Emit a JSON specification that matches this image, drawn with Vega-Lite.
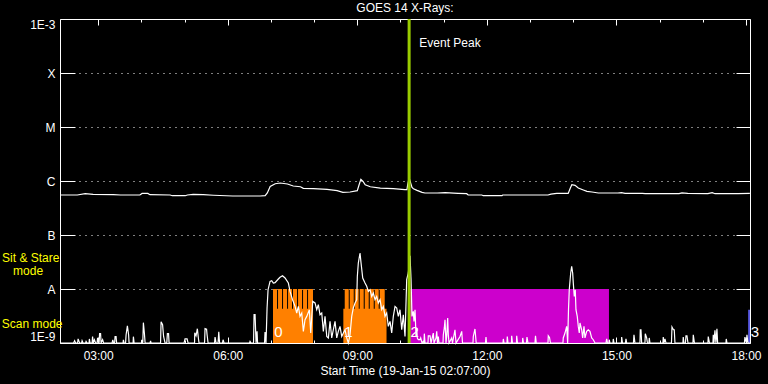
{
  "$schema": "https://vega.github.io/schema/vega-lite/v6.json",
  "width": 690,
  "height": 324,
  "autosize": "none",
  "padding": {"left": 60, "top": 19, "right": 18, "bottom": 41},
  "background": "black",
  "title": {"text": "GOES 14 X-Rays:", "color": "white", "font": "Liberation Sans", "fontSize": 12, "fontWeight": "normal", "anchor": "middle", "baseline": "alphabetic", "offset": 5, "dy": 11},
  "config": {
    "view": {"stroke": null},
    "axis": {"domainColor": "white", "domainWidth": 1, "tickColor": "white", "tickWidth": 1, "labelColor": "white", "titleColor": "white", "labelFont": "Liberation Sans", "titleFont": "Liberation Sans", "labelFontSize": 12, "titleFontSize": 12, "titleFontWeight": "normal"}
  },
  "datasets": {
    "segs": [
      {"t1": 7.049, "t2": 7.975, "lo": 1e-9, "hi": 4.32e-9, "kind": "scan"},
      {"t1": 7.049, "t2": 7.142, "lo": 1e-9, "hi": 1e-8, "kind": "scan"},
      {"t1": 7.165, "t2": 7.258, "lo": 1e-9, "hi": 1e-8, "kind": "scan"},
      {"t1": 7.281, "t2": 7.374, "lo": 1e-9, "hi": 1e-8, "kind": "scan"},
      {"t1": 7.397, "t2": 7.489, "lo": 1e-9, "hi": 1e-8, "kind": "scan"},
      {"t1": 7.512, "t2": 7.605, "lo": 1e-9, "hi": 1e-8, "kind": "scan"},
      {"t1": 7.628, "t2": 7.721, "lo": 1e-9, "hi": 1e-8, "kind": "scan"},
      {"t1": 7.744, "t2": 7.837, "lo": 1e-9, "hi": 1e-8, "kind": "scan"},
      {"t1": 7.860, "t2": 7.975, "lo": 1e-9, "hi": 1e-8, "kind": "scan"},
      {"t1": 8.677, "t2": 9.677, "lo": 1e-9, "hi": 4.32e-9, "kind": "scan"},
      {"t1": 8.709, "t2": 8.802, "lo": 1e-9, "hi": 1e-8, "kind": "scan"},
      {"t1": 8.825, "t2": 8.918, "lo": 1e-9, "hi": 1e-8, "kind": "scan"},
      {"t1": 8.941, "t2": 9.033, "lo": 1e-9, "hi": 1e-8, "kind": "scan"},
      {"t1": 9.056, "t2": 9.149, "lo": 1e-9, "hi": 1e-8, "kind": "scan"},
      {"t1": 9.172, "t2": 9.265, "lo": 1e-9, "hi": 1e-8, "kind": "scan"},
      {"t1": 9.288, "t2": 9.381, "lo": 1e-9, "hi": 1e-8, "kind": "scan"},
      {"t1": 9.404, "t2": 9.496, "lo": 1e-9, "hi": 1e-8, "kind": "scan"},
      {"t1": 9.519, "t2": 9.635, "lo": 1e-9, "hi": 1e-8, "kind": "scan"},
      {"t1": 10.221, "t2": 14.827, "lo": 1e-9, "hi": 1e-8, "kind": "sit"},
      {"t1": 18.052, "t2": 18.09, "lo": 1e-9, "hi": 4.14e-9, "kind": "other"}
    ],
    "upper": [
      {"t": 2.117, "v": 5.50e-7}, {"t": 2.517, "v": 5.50e-7}, {"t": 2.70, "v": 5.82e-7}, {"t": 2.883, "v": 5.65e-7},
      {"t": 3.35, "v": 5.57e-7}, {"t": 3.517, "v": 5.50e-7}, {"t": 3.967, "v": 5.50e-7}, {"t": 4.017, "v": 5.89e-7},
      {"t": 4.15, "v": 5.89e-7}, {"t": 4.20, "v": 5.57e-7}, {"t": 4.667, "v": 5.50e-7}, {"t": 4.717, "v": 5.34e-7},
      {"t": 5.017, "v": 5.34e-7}, {"t": 5.067, "v": 5.50e-7}, {"t": 5.20, "v": 5.65e-7}, {"t": 5.433, "v": 5.57e-7},
      {"t": 5.667, "v": 5.45e-7}, {"t": 6.117, "v": 5.28e-7}, {"t": 6.75, "v": 5.28e-7}, {"t": 6.867, "v": 5.34e-7},
      {"t": 6.917, "v": 6.0e-7}, {"t": 6.983, "v": 7.94e-7}, {"t": 7.10, "v": 8.91e-7}, {"t": 7.217, "v": 9.18e-7},
      {"t": 7.383, "v": 8.79e-7}, {"t": 7.517, "v": 8.07e-7}, {"t": 7.683, "v": 7.83e-7}, {"t": 7.75, "v": 7.30e-7},
      {"t": 7.983, "v": 7.20e-7}, {"t": 8.30, "v": 6.98e-7}, {"t": 8.533, "v": 6.61e-7}, {"t": 8.667, "v": 6.15e-7},
      {"t": 8.833, "v": 6.25e-7}, {"t": 9.0, "v": 6.61e-7}, {"t": 9.042, "v": 8.53e-7}, {"t": 9.083, "v": 1.07e-6},
      {"t": 9.133, "v": 9.84e-7}, {"t": 9.183, "v": 8.53e-7}, {"t": 9.30, "v": 7.83e-7}, {"t": 9.533, "v": 7.41e-7},
      {"t": 9.833, "v": 7.20e-7}, {"t": 10.10, "v": 6.90e-7}, {"t": 10.15, "v": 6.90e-7}, {"t": 10.167, "v": 8.53e-7},
      {"t": 10.20, "v": 1.14e-6}, {"t": 10.267, "v": 7.60e-7}, {"t": 10.30, "v": 7.20e-7}, {"t": 10.383, "v": 6.70e-7},
      {"t": 10.50, "v": 6.15e-7}, {"t": 10.567, "v": 6.0e-7}, {"t": 10.85, "v": 6.0e-7}, {"t": 11.033, "v": 6.07e-7},
      {"t": 11.333, "v": 5.89e-7}, {"t": 11.533, "v": 5.82e-7}, {"t": 11.567, "v": 5.50e-7}, {"t": 11.883, "v": 5.50e-7},
      {"t": 11.917, "v": 5.34e-7}, {"t": 12.35, "v": 5.34e-7}, {"t": 12.367, "v": 5.50e-7}, {"t": 13.417, "v": 5.50e-7},
      {"t": 13.483, "v": 5.70e-7}, {"t": 13.617, "v": 5.89e-7}, {"t": 13.883, "v": 5.89e-7}, {"t": 13.933, "v": 7.41e-7},
      {"t": 13.967, "v": 8.53e-7}, {"t": 14.042, "v": 8.30e-7}, {"t": 14.117, "v": 7.41e-7}, {"t": 14.233, "v": 6.81e-7},
      {"t": 14.317, "v": 6.41e-7}, {"t": 14.433, "v": 6.25e-7}, {"t": 14.583, "v": 6.0e-7}, {"t": 15.033, "v": 6.0e-7},
      {"t": 15.117, "v": 6.07e-7}, {"t": 15.20, "v": 5.89e-7}, {"t": 15.60, "v": 5.89e-7}, {"t": 15.667, "v": 5.82e-7},
      {"t": 16.45, "v": 5.82e-7}, {"t": 16.517, "v": 6.0e-7}, {"t": 16.65, "v": 5.89e-7}, {"t": 17.117, "v": 5.82e-7},
      {"t": 17.217, "v": 6.07e-7}, {"t": 17.283, "v": 5.82e-7}, {"t": 17.817, "v": 5.82e-7}, {"t": 18.09, "v": 5.89e-7}
    ],
    "lower": [
      {"t": 2.117, "v": 1.0e-9}, {"t": 2.431, "v": 1.0e-9}, {"t": 2.455, "v": 1.10e-9}, {"t": 2.478, "v": 1.0e-9},
      {"t": 2.524, "v": 1.0e-9}, {"t": 2.536, "v": 1.19e-9}, {"t": 2.570, "v": 1.0e-9}, {"t": 2.617, "v": 1.0e-9},
      {"t": 2.628, "v": 1.10e-9}, {"t": 2.651, "v": 1.0e-9}, {"t": 2.709, "v": 1.0e-9}, {"t": 2.721, "v": 1.07e-9},
      {"t": 2.744, "v": 1.0e-9}, {"t": 2.790, "v": 1.0e-9}, {"t": 2.797, "v": 1.19e-9}, {"t": 2.813, "v": 1.0e-9},
      {"t": 2.860, "v": 1.0e-9}, {"t": 2.871, "v": 1.31e-9}, {"t": 2.887, "v": 1.0e-9}, {"t": 2.913, "v": 1.15e-9},
      {"t": 2.941, "v": 1.0e-9}, {"t": 2.975, "v": 1.0e-9}, {"t": 2.987, "v": 1.25e-9}, {"t": 3.010, "v": 1.0e-9},
      {"t": 3.022, "v": 1.0e-9}, {"t": 3.033, "v": 1.49e-9}, {"t": 3.056, "v": 1.49e-9}, {"t": 3.068, "v": 1.0e-9},
      {"t": 3.103, "v": 1.15e-9}, {"t": 3.126, "v": 1.0e-9}, {"t": 3.323, "v": 1.0e-9}, {"t": 3.339, "v": 1.14e-9},
      {"t": 3.357, "v": 1.0e-9}, {"t": 3.381, "v": 1.0e-9}, {"t": 3.392, "v": 1.31e-9}, {"t": 3.415, "v": 1.31e-9},
      {"t": 3.427, "v": 1.0e-9}, {"t": 3.577, "v": 1.0e-9}, {"t": 3.584, "v": 1.14e-9}, {"t": 3.600, "v": 1.0e-9},
      {"t": 3.635, "v": 1.0e-9}, {"t": 3.647, "v": 1.42e-9}, {"t": 3.677, "v": 2.09e-9}, {"t": 3.705, "v": 1.42e-9},
      {"t": 3.716, "v": 1.0e-9}, {"t": 3.809, "v": 1.0e-9}, {"t": 3.816, "v": 1.31e-9}, {"t": 3.832, "v": 1.0e-9},
      {"t": 4.005, "v": 1.0e-9}, {"t": 4.010, "v": 1.15e-9}, {"t": 4.033, "v": 1.0e-9}, {"t": 4.047, "v": 2.38e-9},
      {"t": 4.070, "v": 1.53e-9}, {"t": 4.087, "v": 1.0e-9}, {"t": 4.202, "v": 1.0e-9}, {"t": 4.214, "v": 1.10e-9},
      {"t": 4.225, "v": 1.0e-9}, {"t": 4.445, "v": 1.0e-9}, {"t": 4.457, "v": 2.48e-9}, {"t": 4.492, "v": 2.18e-9},
      {"t": 4.515, "v": 1.32e-9}, {"t": 4.549, "v": 1.0e-9}, {"t": 4.589, "v": 1.0e-9}, {"t": 4.603, "v": 1.49e-9},
      {"t": 4.630, "v": 1.49e-9}, {"t": 4.642, "v": 1.0e-9}, {"t": 4.989, "v": 1.0e-9}, {"t": 5.012, "v": 1.19e-9},
      {"t": 5.059, "v": 1.19e-9}, {"t": 5.082, "v": 1.0e-9}, {"t": 5.232, "v": 1.0e-9}, {"t": 5.237, "v": 1.55e-9},
      {"t": 5.267, "v": 1.36e-9}, {"t": 5.297, "v": 1.84e-9}, {"t": 5.325, "v": 1.15e-9}, {"t": 5.336, "v": 1.0e-9},
      {"t": 5.464, "v": 1.0e-9}, {"t": 5.475, "v": 1.84e-9}, {"t": 5.510, "v": 1.80e-9}, {"t": 5.522, "v": 1.42e-9},
      {"t": 5.545, "v": 1.0e-9}, {"t": 5.695, "v": 1.0e-9}, {"t": 5.707, "v": 1.29e-9}, {"t": 5.730, "v": 1.0e-9},
      {"t": 5.776, "v": 1.0e-9}, {"t": 5.793, "v": 1.62e-9}, {"t": 5.811, "v": 1.0e-9}, {"t": 5.880, "v": 1.0e-9},
      {"t": 5.892, "v": 1.15e-9}, {"t": 5.915, "v": 1.0e-9}, {"t": 6.505, "v": 1.0e-9}, {"t": 6.517, "v": 1.07e-9},
      {"t": 6.540, "v": 1.0e-9}, {"t": 6.598, "v": 1.0e-9}, {"t": 6.610, "v": 3.34e-9}, {"t": 6.633, "v": 3.34e-9},
      {"t": 6.656, "v": 1.0e-9}, {"t": 6.679, "v": 1.64e-9}, {"t": 6.691, "v": 1.0e-9}, {"t": 6.853, "v": 1.0e-9},
      {"t": 6.864, "v": 1.60e-9}, {"t": 6.887, "v": 1.0e-9}, {"t": 6.911, "v": 4.45e-9}, {"t": 6.934, "v": 9.70e-9},
      {"t": 6.980, "v": 1.38e-8}, {"t": 7.019, "v": 1.42e-8}, {"t": 7.056, "v": 1.29e-8}, {"t": 7.096, "v": 1.31e-8},
      {"t": 7.172, "v": 1.53e-8}, {"t": 7.211, "v": 1.65e-8}, {"t": 7.269, "v": 1.76e-8}, {"t": 7.327, "v": 1.60e-8},
      {"t": 7.404, "v": 1.29e-8}, {"t": 7.443, "v": 9.03e-9}, {"t": 7.501, "v": 6.34e-9}, {"t": 7.559, "v": 4.76e-9},
      {"t": 7.598, "v": 3.59e-9}, {"t": 7.635, "v": 4.76e-9}, {"t": 7.674, "v": 3.11e-9}, {"t": 7.714, "v": 3.59e-9},
      {"t": 7.751, "v": 1.64e-9}, {"t": 7.790, "v": 2.70e-9}, {"t": 7.830, "v": 3.11e-9}, {"t": 7.890, "v": 4.14e-9},
      {"t": 7.922, "v": 1.53e-9}, {"t": 7.968, "v": 5.89e-9}, {"t": 8.022, "v": 5.51e-9}, {"t": 8.061, "v": 4.14e-9},
      {"t": 8.098, "v": 5.12e-9}, {"t": 8.137, "v": 3.34e-9}, {"t": 8.177, "v": 3.59e-9}, {"t": 8.214, "v": 1.64e-9},
      {"t": 8.253, "v": 3.11e-9}, {"t": 8.293, "v": 1.32e-9}, {"t": 8.330, "v": 1.24e-9}, {"t": 8.369, "v": 2.51e-9},
      {"t": 8.408, "v": 1.24e-9}, {"t": 8.445, "v": 1.76e-9}, {"t": 8.485, "v": 2.51e-9}, {"t": 8.524, "v": 1.24e-9},
      {"t": 8.561, "v": 1.64e-9}, {"t": 8.600, "v": 2.03e-9}, {"t": 8.640, "v": 1.32e-9}, {"t": 8.677, "v": 1.53e-9},
      {"t": 8.716, "v": 1.76e-9}, {"t": 8.756, "v": 1.24e-9}, {"t": 8.793, "v": 1.0e-9}, {"t": 8.832, "v": 1.42e-9},
      {"t": 8.871, "v": 3.11e-9}, {"t": 8.908, "v": 4.45e-9}, {"t": 8.948, "v": 5.51e-9}, {"t": 8.987, "v": 6.34e-9},
      {"t": 9.001, "v": 1.71e-8}, {"t": 9.024, "v": 3.03e-8}, {"t": 9.063, "v": 4.64e-8}, {"t": 9.087, "v": 3.03e-8},
      {"t": 9.126, "v": 1.60e-8}, {"t": 9.179, "v": 1.29e-8}, {"t": 9.218, "v": 1.12e-8}, {"t": 9.256, "v": 9.03e-9},
      {"t": 9.295, "v": 9.70e-9}, {"t": 9.334, "v": 7.29e-9}, {"t": 9.371, "v": 8.43e-9}, {"t": 9.411, "v": 6.34e-9},
      {"t": 9.450, "v": 7.29e-9}, {"t": 9.487, "v": 5.51e-9}, {"t": 9.526, "v": 6.34e-9}, {"t": 9.566, "v": 4.14e-9},
      {"t": 9.603, "v": 4.76e-9}, {"t": 9.642, "v": 3.11e-9}, {"t": 9.681, "v": 3.59e-9}, {"t": 9.718, "v": 2.03e-9},
      {"t": 9.758, "v": 2.51e-9}, {"t": 9.797, "v": 1.53e-9}, {"t": 9.834, "v": 3.11e-9}, {"t": 9.874, "v": 4.76e-9},
      {"t": 9.913, "v": 4.45e-9}, {"t": 9.950, "v": 3.11e-9}, {"t": 9.989, "v": 4.14e-9}, {"t": 10.029, "v": 1.76e-9},
      {"t": 10.066, "v": 3.34e-9}, {"t": 10.105, "v": 1.32e-9}, {"t": 10.144, "v": 1.49e-8}, {"t": 10.181, "v": 1.98e-8},
      {"t": 10.221, "v": 4.14e-8}, {"t": 10.244, "v": 1.53e-8}, {"t": 10.267, "v": 3.11e-9}, {"t": 10.297, "v": 3.85e-9},
      {"t": 10.313, "v": 2.51e-9}, {"t": 10.337, "v": 4.14e-9}, {"t": 10.360, "v": 1.32e-9}, {"t": 10.376, "v": 1.90e-9},
      {"t": 10.390, "v": 1.24e-9}, {"t": 10.413, "v": 1.15e-9}, {"t": 10.452, "v": 1.15e-9}, {"t": 10.468, "v": 1.24e-9},
      {"t": 10.499, "v": 1.0e-9}, {"t": 10.529, "v": 1.07e-9}, {"t": 10.545, "v": 1.0e-9}, {"t": 10.552, "v": 1.49e-9},
      {"t": 10.568, "v": 1.0e-9}, {"t": 10.637, "v": 1.0e-9}, {"t": 10.644, "v": 1.36e-9}, {"t": 10.684, "v": 1.36e-9},
      {"t": 10.707, "v": 1.0e-9}, {"t": 10.760, "v": 1.53e-9}, {"t": 10.776, "v": 1.0e-9}, {"t": 10.823, "v": 1.24e-9},
      {"t": 10.839, "v": 1.64e-9}, {"t": 10.857, "v": 1.0e-9}, {"t": 10.876, "v": 1.32e-9}, {"t": 10.892, "v": 1.0e-9},
      {"t": 10.985, "v": 1.0e-9}, {"t": 10.992, "v": 1.42e-9}, {"t": 11.015, "v": 1.90e-9}, {"t": 11.031, "v": 2.70e-9},
      {"t": 11.054, "v": 1.0e-9}, {"t": 11.070, "v": 1.32e-9}, {"t": 11.093, "v": 2.90e-9}, {"t": 11.107, "v": 1.42e-9},
      {"t": 11.124, "v": 1.0e-9}, {"t": 11.186, "v": 1.24e-9}, {"t": 11.205, "v": 1.0e-9}, {"t": 11.262, "v": 1.76e-9},
      {"t": 11.286, "v": 1.0e-9}, {"t": 11.378, "v": 1.32e-9}, {"t": 11.418, "v": 1.64e-9}, {"t": 11.436, "v": 1.0e-9},
      {"t": 11.679, "v": 1.0e-9}, {"t": 11.686, "v": 1.32e-9}, {"t": 11.725, "v": 1.82e-9}, {"t": 11.753, "v": 1.0e-9},
      {"t": 11.968, "v": 1.0e-9}, {"t": 11.980, "v": 1.29e-9}, {"t": 11.992, "v": 1.0e-9}, {"t": 12.374, "v": 1.0e-9},
      {"t": 12.381, "v": 1.19e-9}, {"t": 12.397, "v": 1.0e-9}, {"t": 12.466, "v": 1.0e-9}, {"t": 12.473, "v": 1.32e-9},
      {"t": 12.489, "v": 1.0e-9}, {"t": 12.570, "v": 1.0e-9}, {"t": 12.575, "v": 1.36e-9}, {"t": 12.593, "v": 1.0e-9},
      {"t": 12.686, "v": 1.0e-9}, {"t": 12.691, "v": 1.36e-9}, {"t": 12.709, "v": 1.0e-9}, {"t": 12.825, "v": 1.0e-9},
      {"t": 12.830, "v": 1.24e-9}, {"t": 12.848, "v": 1.0e-9}, {"t": 12.918, "v": 1.0e-9}, {"t": 12.929, "v": 1.29e-9},
      {"t": 12.952, "v": 1.0e-9}, {"t": 13.114, "v": 1.0e-9}, {"t": 13.126, "v": 1.36e-9}, {"t": 13.144, "v": 1.0e-9},
      {"t": 13.415, "v": 1.0e-9}, {"t": 13.422, "v": 1.36e-9}, {"t": 13.450, "v": 1.27e-9}, {"t": 13.473, "v": 1.0e-9},
      {"t": 13.762, "v": 1.0e-9}, {"t": 13.769, "v": 1.24e-9}, {"t": 13.809, "v": 1.53e-9}, {"t": 13.848, "v": 2.03e-9},
      {"t": 13.871, "v": 1.0e-9}, {"t": 13.890, "v": 4.14e-9}, {"t": 13.908, "v": 9.70e-9}, {"t": 13.941, "v": 1.98e-8},
      {"t": 13.964, "v": 2.62e-8}, {"t": 13.987, "v": 1.98e-8}, {"t": 14.001, "v": 1.29e-8}, {"t": 14.024, "v": 7.29e-9},
      {"t": 14.047, "v": 9.70e-9}, {"t": 14.063, "v": 4.14e-9}, {"t": 14.093, "v": 3.11e-9}, {"t": 14.117, "v": 2.03e-9},
      {"t": 14.140, "v": 1.53e-9}, {"t": 14.156, "v": 2.35e-9}, {"t": 14.195, "v": 1.76e-9}, {"t": 14.218, "v": 1.24e-9},
      {"t": 14.249, "v": 2.03e-9}, {"t": 14.272, "v": 1.24e-9}, {"t": 14.311, "v": 1.64e-9}, {"t": 14.348, "v": 1.76e-9},
      {"t": 14.387, "v": 1.64e-9}, {"t": 14.427, "v": 1.24e-9}, {"t": 14.464, "v": 1.15e-9}, {"t": 14.503, "v": 1.0e-9},
      {"t": 14.758, "v": 1.0e-9}, {"t": 14.774, "v": 1.19e-9}, {"t": 14.793, "v": 1.0e-9}, {"t": 14.827, "v": 1.0e-9},
      {"t": 14.834, "v": 1.15e-9}, {"t": 14.850, "v": 1.0e-9}, {"t": 14.920, "v": 1.0e-9}, {"t": 14.927, "v": 1.19e-9},
      {"t": 14.943, "v": 1.0e-9}, {"t": 15.117, "v": 1.0e-9}, {"t": 15.121, "v": 1.29e-9}, {"t": 15.140, "v": 1.0e-9},
      {"t": 15.209, "v": 1.0e-9}, {"t": 15.221, "v": 1.19e-9}, {"t": 15.237, "v": 1.0e-9}, {"t": 15.394, "v": 1.0e-9},
      {"t": 15.406, "v": 1.42e-9}, {"t": 15.429, "v": 1.0e-9}, {"t": 15.545, "v": 1.0e-9}, {"t": 15.552, "v": 1.76e-9},
      {"t": 15.568, "v": 1.76e-9}, {"t": 15.584, "v": 1.0e-9}, {"t": 15.661, "v": 1.0e-9}, {"t": 15.668, "v": 1.49e-9},
      {"t": 15.700, "v": 1.24e-9}, {"t": 15.718, "v": 1.0e-9}, {"t": 15.753, "v": 1.0e-9}, {"t": 15.760, "v": 1.24e-9},
      {"t": 15.776, "v": 1.0e-9}, {"t": 16.077, "v": 1.0e-9}, {"t": 16.084, "v": 1.29e-9}, {"t": 16.100, "v": 1.0e-9},
      {"t": 16.124, "v": 1.19e-9}, {"t": 16.147, "v": 1.0e-9}, {"t": 16.274, "v": 1.0e-9}, {"t": 16.286, "v": 1.98e-9},
      {"t": 16.320, "v": 1.76e-9}, {"t": 16.339, "v": 1.76e-9}, {"t": 16.355, "v": 1.0e-9}, {"t": 16.540, "v": 1.0e-9},
      {"t": 16.547, "v": 1.29e-9}, {"t": 16.563, "v": 1.0e-9}, {"t": 16.598, "v": 1.0e-9}, {"t": 16.610, "v": 1.36e-9},
      {"t": 16.633, "v": 1.36e-9}, {"t": 16.656, "v": 1.0e-9}, {"t": 16.772, "v": 1.0e-9}, {"t": 16.779, "v": 1.42e-9},
      {"t": 16.806, "v": 1.0e-9}, {"t": 17.119, "v": 1.0e-9}, {"t": 17.126, "v": 1.32e-9}, {"t": 17.154, "v": 1.0e-9},
      {"t": 17.235, "v": 1.0e-9}, {"t": 17.242, "v": 1.42e-9}, {"t": 17.258, "v": 1.0e-9}, {"t": 17.281, "v": 1.71e-9},
      {"t": 17.304, "v": 1.0e-9}, {"t": 17.327, "v": 1.84e-9}, {"t": 17.343, "v": 1.0e-9}, {"t": 17.536, "v": 1.0e-9},
      {"t": 17.543, "v": 1.19e-9}, {"t": 17.559, "v": 1.0e-9}, {"t": 17.964, "v": 1.0e-9}, {"t": 17.975, "v": 1.29e-9},
      {"t": 18.010, "v": 1.0e-9}, {"t": 18.022, "v": 1.42e-9}, {"t": 18.045, "v": 1.0e-9}, {"t": 18.09, "v": 1.0e-9}
    ],
    "peak": [{"t": 10.2}],
    "ev": [{"t": 10.436, "v": 3.64e-4, "label": "Event Peak"}],
    "seglab": [
      {"t": 7.08, "v": 1.57e-9, "label": "0"},
      {"t": 8.70, "v": 1.57e-9, "label": "1"},
      {"t": 10.23, "v": 1.57e-9, "label": "2"},
      {"t": 18.11, "v": 1.57e-9, "label": "3"}
    ],
    "modes": [
      {"t": 0.776, "v": 3.69e-8, "label": "Sit & Stare"},
      {"t": 1.031, "v": 2.15e-8, "label": "mode"},
      {"t": 0.769, "v": 2.28e-9, "label": "Scan mode"}
    ]
  },
  "layer": [
    {
      "data": {"name": "segs"},
      "mark": {"type": "rect"},
      "encoding": {
        "x": {"field": "t1", "type": "quantitative", "scale": {"domain": [2.1167, 18.0926], "nice": false, "zero": false},
          "axis": {"orient": "bottom", "values": [3,4,5,6,7,8,9,10,11,12,13,14,15,16,17,18],
            "labelExpr": "datum.value % 3 == 0 ? (datum.value < 10 ? '0' : '') + datum.value + ':00' : ''",
            "tickSize": -6, "tickDash": {"condition": {"test": "datum.value % 3 != 0", "value": [3, 20]}, "value": [6, 0]},
            "labelPadding": 13, "labelOverlap": false, "labelFlush": false, "grid": false,
            "title": "Start Time (19-Jan-15 02:07:00)", "titlePadding": 4}},
        "x2": {"field": "t2"},
        "y": {"field": "lo", "type": "quantitative", "scale": {"type": "log", "domain": [1e-9, 1e-3], "nice": false},
          "axis": {"orient": "left", "values": [1e-9, 1e-8, 1e-7, 1e-6, 1e-5, 1e-4, 1e-3],
            "labelExpr": "['1E-9','A','B','C','M','X','1E-3'][round(log(datum.value)/LN10)+9]",
            "tickSize": -15, "labelPadding": 20, "labelFlush": true, "labelOverlap": false,
            "grid": true, "gridColor": "white", "gridDash": [1, 5], "gridDashOffset": 5, "gridWidth": 1, "title": null}},
        "y2": {"field": "hi"},
        "color": {"field": "kind", "type": "nominal", "scale": {"domain": ["scan", "sit", "other"], "range": ["#ff8000", "#cc00cc", "#6464ff"]}, "legend": null}
      }
    },
    {
      "data": {"name": "upper"},
      "mark": {"type": "line", "color": "white", "strokeWidth": 1.2},
      "encoding": {
        "x": {"field": "t", "type": "quantitative", "scale": {"domain": [2.1167, 18.0926], "nice": false, "zero": false},
          "axis": {"orient": "top", "values": [3,4,5,6,7,8,9,10,11,12,13,14,15,16,17,18], "labels": false,
            "tickSize": -6, "tickDash": {"condition": {"test": "datum.value % 3 != 0", "value": [3, 20]}, "value": [6, 0]},
            "grid": false, "title": null}},
        "y": {"field": "v", "type": "quantitative", "scale": {"type": "log", "domain": [1e-9, 1e-3], "nice": false},
          "axis": {"orient": "right", "values": [1e-9, 1e-8, 1e-7, 1e-6, 1e-5, 1e-4, 1e-3], "labels": false,
            "tickSize": -14, "grid": false, "title": null}}
      }
    },
    {
      "data": {"name": "lower"},
      "mark": {"type": "line", "color": "white", "strokeWidth": 1.2},
      "encoding": {
        "x": {"field": "t", "type": "quantitative", "scale": {"domain": [2.1167, 18.0926], "nice": false, "zero": false}, "axis": null},
        "y": {"field": "v", "type": "quantitative", "scale": {"type": "log", "domain": [1e-9, 1e-3], "nice": false}, "axis": null}
      }
    },
    {
      "data": {"name": "peak"},
      "mark": {"type": "rule", "color": "#99cc00", "strokeWidth": 3},
      "encoding": {
        "x": {"field": "t", "type": "quantitative", "scale": {"domain": [2.1167, 18.0926], "nice": false, "zero": false}, "axis": null}
      }
    },
    {
      "data": {"name": "ev"},
      "mark": {"type": "text", "color": "white", "font": "Liberation Sans", "fontSize": 12, "align": "left", "baseline": "middle"},
      "encoding": {
        "x": {"field": "t", "type": "quantitative", "scale": {"domain": [2.1167, 18.0926], "nice": false, "zero": false}, "axis": null},
        "y": {"field": "v", "type": "quantitative", "scale": {"type": "log", "domain": [1e-9, 1e-3], "nice": false}, "axis": null},
        "text": {"field": "label"}
      }
    },
    {
      "data": {"name": "seglab"},
      "mark": {"type": "text", "color": "white", "font": "Liberation Sans", "fontSize": 15, "align": "left", "baseline": "middle"},
      "encoding": {
        "x": {"field": "t", "type": "quantitative", "scale": {"domain": [2.1167, 18.0926], "nice": false, "zero": false}, "axis": null},
        "y": {"field": "v", "type": "quantitative", "scale": {"type": "log", "domain": [1e-9, 1e-3], "nice": false}, "axis": null},
        "text": {"field": "label"}
      }
    },
    {
      "data": {"name": "modes"},
      "mark": {"type": "text", "color": "#ffff00", "font": "Liberation Sans", "fontSize": 12, "align": "left", "baseline": "middle"},
      "encoding": {
        "x": {"field": "t", "type": "quantitative", "scale": {"domain": [2.1167, 18.0926], "nice": false, "zero": false}, "axis": null},
        "y": {"field": "v", "type": "quantitative", "scale": {"type": "log", "domain": [1e-9, 1e-3], "nice": false}, "axis": null},
        "text": {"field": "label"}
      }
    }
  ],
  "resolve": {"axis": {"x": "independent", "y": "independent"}}
}
